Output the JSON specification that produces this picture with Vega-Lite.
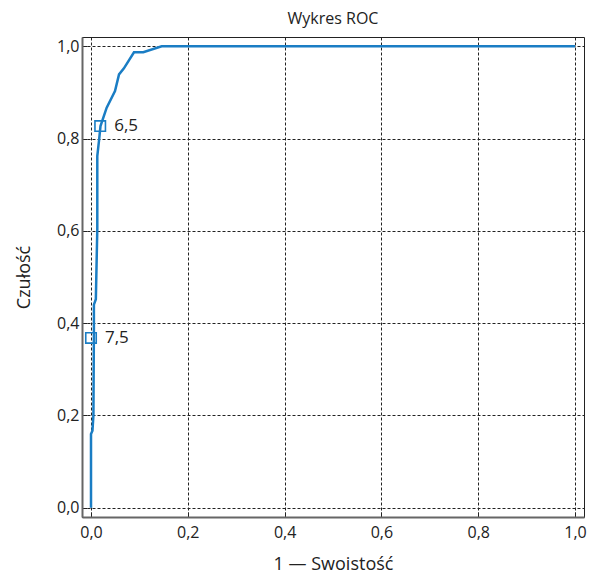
{
  "$schema": "https://vega.github.io/schema/vega-lite/v6.json",
  "width": 502,
  "height": 480,
  "autosize": {"type": "none"},
  "padding": {"left": 82, "top": 37, "right": 14, "bottom": 58},
  "background": "white",
  "title": {"text": "Wykres ROC", "fontSize": 16, "fontWeight": "normal", "font": "Open Sans", "color": "#222222", "offset": 10},
  "config": {
    "font": "Open Sans",
    "view": {"stroke": "#222222", "strokeWidth": 1},
    "axis": {
      "grid": true,
      "gridColor": "#222222",
      "gridDash": [3, 2],
      "gridWidth": 1,
      "domainColor": "#666666",
      "domainWidth": 2,
      "tickColor": "#222222",
      "tickSize": -5,
      "labelFontSize": 16,
      "labelColor": "#222222",
      "labelFont": "Open Sans",
      "titleFont": "Open Sans",
      "titleFontSize": 18,
      "titleFontWeight": "normal",
      "titleColor": "#222222"
    }
  },
  "datasets": {
    "curve": [
      {"x": 0.0, "y": 0.0},
      {"x": 0.0, "y": 0.16},
      {"x": 0.003, "y": 0.167},
      {"x": 0.005, "y": 0.2},
      {"x": 0.006, "y": 0.387},
      {"x": 0.006, "y": 0.44},
      {"x": 0.010, "y": 0.452},
      {"x": 0.013, "y": 0.604},
      {"x": 0.013, "y": 0.762},
      {"x": 0.017, "y": 0.8},
      {"x": 0.0196, "y": 0.827},
      {"x": 0.0324, "y": 0.867},
      {"x": 0.0496, "y": 0.903},
      {"x": 0.0579, "y": 0.939},
      {"x": 0.068, "y": 0.952},
      {"x": 0.0888, "y": 0.987},
      {"x": 0.108, "y": 0.987},
      {"x": 0.146, "y": 1.0},
      {"x": 1.0, "y": 1.0}
    ],
    "points": [
      {"x": 0.019, "y": 0.827, "label": "6,5"},
      {"x": 0.0, "y": 0.368, "label": "7,5"}
    ]
  },
  "layer": [
    {
      "data": {"name": "curve"},
      "mark": {"type": "line", "color": "#1a7dc4", "strokeWidth": 2.5},
      "encoding": {
        "x": {
          "field": "x", "type": "quantitative",
          "scale": {"domain": [-0.0186, 1.0186], "nice": false, "zero": false},
          "axis": {"values": [0, 0.2, 0.4, 0.6, 0.8, 1.0], "labelExpr": "replace(format(datum.value,'.1f'),'.',',')", "title": "1 — Swoistość", "titlePadding": 15, "labelPadding": 12}
        },
        "y": {
          "field": "y", "type": "quantitative",
          "scale": {"domain": [-0.02, 1.02], "nice": false, "zero": false},
          "axis": {"values": [0, 0.2, 0.4, 0.6, 0.8, 1.0], "labelExpr": "replace(format(datum.value,'.1f'),'.',',')", "title": "Czułość", "titlePadding": 23, "labelPadding": 8}
        },
        "order": {"value": 0}
      }
    },
    {
      "mark": {"type": "rule", "color": "#000000", "strokeWidth": 1},
      "encoding": {"y": {"datum": 1}}
    },
    {
      "data": {"name": "points"},
      "mark": {"type": "point", "shape": "square", "filled": false, "color": "#1a7dc4", "strokeWidth": 1.6, "size": 110, "opacity": 1},
      "encoding": {
        "x": {"field": "x", "type": "quantitative"},
        "y": {"field": "y", "type": "quantitative"}
      }
    },
    {
      "data": {"name": "points"},
      "mark": {"type": "text", "align": "left", "baseline": "middle", "dx": 14, "fontSize": 17, "color": "#222222", "font": "Open Sans"},
      "encoding": {
        "x": {"field": "x", "type": "quantitative"},
        "y": {"field": "y", "type": "quantitative"},
        "text": {"field": "label"}
      }
    }
  ]
}
